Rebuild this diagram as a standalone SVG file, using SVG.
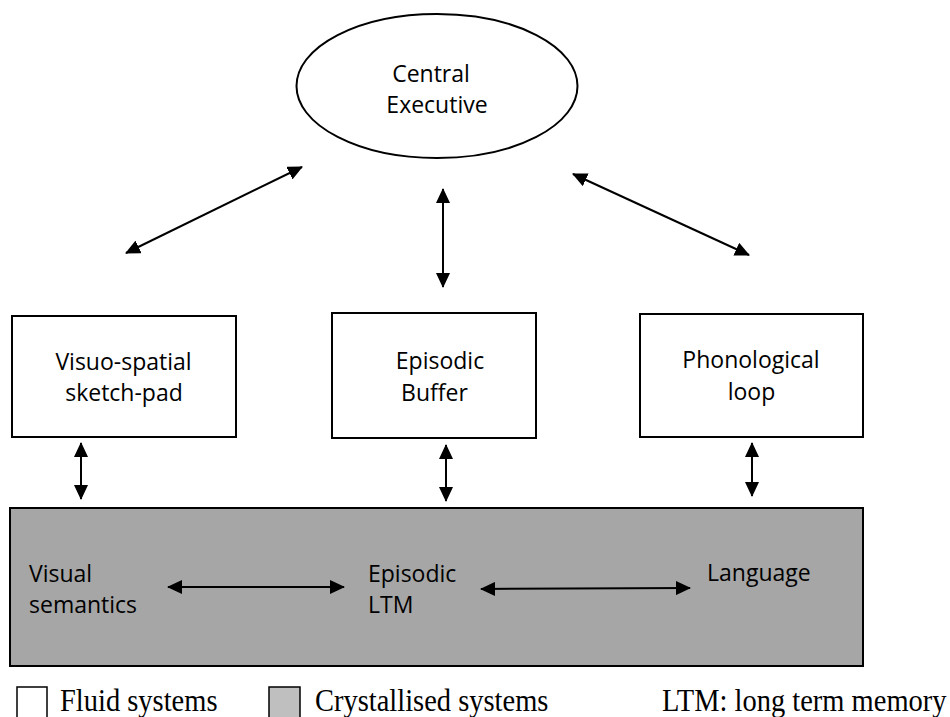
<svg xmlns="http://www.w3.org/2000/svg" width="950" height="717" viewBox="0 0 950 717">
  <style>
    .node { fill: #ffffff; stroke: #000000; stroke-width: 2; }
    .ltm { fill: #a6a6a6; stroke: #000000; stroke-width: 2; }
    .lbl { font-family: "Open Sans", "Noto Sans", sans-serif; font-size: 23px; fill: #000000; }
    .mid { text-anchor: middle; }
    .link { stroke: #000000; stroke-width: 2; fill: none; marker-start: url(#head); marker-end: url(#head); }
    .legend { font-family: "Liberation Serif", "Times New Roman", serif; font-size: 28.5px; fill: #000000; }
    .key { stroke: #000000; stroke-width: 1.5; }
  </style>
  <defs>
    <marker id="head" viewBox="0 0 15 14" refX="14" refY="7" markerWidth="15" markerHeight="14" markerUnits="userSpaceOnUse" orient="auto-start-reverse">
      <path d="M0,0 L15,7 L0,14 Z" fill="#000000"/>
    </marker>
  </defs>

  <rect width="950" height="717" fill="#ffffff"/>

  <!-- Central executive -->
  <g id="central-executive">
    <ellipse class="node" cx="437" cy="86" rx="140.5" ry="72" stroke-width="1.6"/>
    <text class="lbl mid" x="431" y="82">Central</text>
    <text class="lbl mid" x="437" y="113">Executive</text>
  </g>

  <!-- Slave systems -->
  <g id="visuo-spatial">
    <rect class="node" x="12" y="316" width="224" height="121"/>
    <text class="lbl mid" x="123.5" y="370">Visuo-spatial</text>
    <text class="lbl mid" x="124" y="401">sketch-pad</text>
  </g>

  <g id="episodic-buffer">
    <rect class="node" x="332" y="313" width="204" height="125"/>
    <text class="lbl mid" x="440" y="369">Episodic</text>
    <text class="lbl mid" x="434.5" y="401">Buffer</text>
  </g>

  <g id="phonological-loop">
    <rect class="node" x="640" y="314" width="223" height="123"/>
    <text class="lbl mid" x="751" y="368">Phonological</text>
    <text class="lbl mid" x="751.5" y="400">loop</text>
  </g>

  <!-- Long-term (crystallised) systems -->
  <g id="long-term-systems">
    <rect class="ltm" x="10" y="508" width="853" height="158"/>
    <text class="lbl" x="29" y="582">Visual</text>
    <text class="lbl" x="29" y="613">semantics</text>
    <text class="lbl" x="368" y="582">Episodic</text>
    <text class="lbl" x="368" y="613">LTM</text>
    <text class="lbl" x="707" y="581">Language</text>
  </g>

  <!-- Connectors -->
  <g id="connectors">
    <line class="link" x1="126" y1="253" x2="302" y2="167"/>
    <line class="link" x1="443" y1="189" x2="443" y2="287"/>
    <line class="link" x1="573" y1="174" x2="749" y2="255"/>
    <line class="link" x1="81" y1="443" x2="81" y2="499"/>
    <line class="link" x1="446" y1="445" x2="446" y2="501"/>
    <line class="link" x1="752" y1="443" x2="752" y2="496"/>
    <line class="link" x1="168" y1="587" x2="344" y2="587"/>
    <line class="link" x1="481" y1="589" x2="690" y2="588"/>
  </g>

  <!-- Key -->
  <g id="legend">
    <rect class="key" x="17" y="687" width="30" height="40" fill="#ffffff"/>
    <text class="legend" transform="translate(60,711) scale(1,1.1)">Fluid systems</text>
    <rect class="key" x="269" y="687" width="31" height="40" fill="#bfbfbf"/>
    <text class="legend" transform="translate(315,711) scale(1,1.1)">Crystallised systems</text>
    <text class="legend" transform="translate(662,711) scale(1,1.1)">LTM: long term memory</text>
  </g>
</svg>
